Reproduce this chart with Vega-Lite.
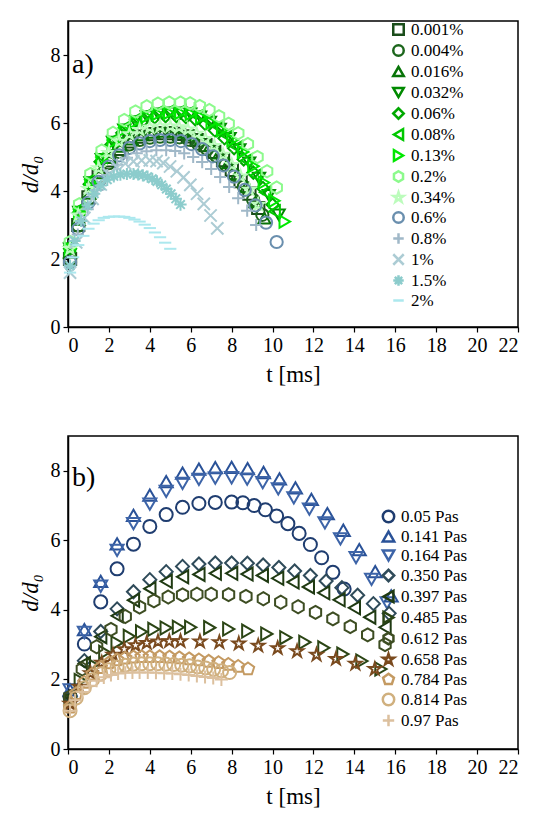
{
"$schema":"https://vega.github.io/schema/vega-lite/v6.json",
"config":{"font":"Times New Roman, Liberation Serif, serif","view":{"stroke":"black","strokeWidth":1.5},"axis":{"labelFont":"Times New Roman, Liberation Serif, serif","titleFont":"Times New Roman, Liberation Serif, serif","labelFontSize":20,"titleFontSize":23,"titleFontWeight":"normal","labelColor":"black","titleColor":"black","domainColor":"black","tickColor":"black","tickSize":5,"labelPadding":3,"grid":false,"domainWidth":1.5,"tickWidth":1.2},"legend":{"labelFont":"Times New Roman, Liberation Serif, serif","labelFontSize":17,"labelColor":"black"},"padding":{"left":18,"top":20,"right":16,"bottom":5}},
"resolve":{"scale":{"color":"independent","shape":"independent"},"legend":{"color":"independent"}},
"datasets":{
"a":[
{"s":"0.001%","t":0.1,"d":2.0},{"s":"0.001%","t":0.5,"d":3.0},{"s":"0.001%","t":1,"d":3.81},{"s":"0.001%","t":1.5,"d":4.43},{"s":"0.001%","t":2,"d":4.9},{"s":"0.001%","t":2.5,"d":5.24},{"s":"0.001%","t":3,"d":5.46},{"s":"0.001%","t":3.5,"d":5.6},{"s":"0.001%","t":4,"d":5.67},{"s":"0.001%","t":4.5,"d":5.7},{"s":"0.001%","t":5,"d":5.7},{"s":"0.001%","t":5.43,"d":5.68},{"s":"0.001%","t":5.86,"d":5.61},{"s":"0.001%","t":6.29,"d":5.5},{"s":"0.001%","t":6.72,"d":5.35},{"s":"0.001%","t":7.15,"d":5.15},{"s":"0.001%","t":7.58,"d":4.91},{"s":"0.001%","t":8.01,"d":4.62},{"s":"0.001%","t":8.44,"d":4.29},{"s":"0.001%","t":8.87,"d":3.92},{"s":"0.001%","t":9.3,"d":3.5},
{"s":"0.004%","t":0.1,"d":2.0},{"s":"0.004%","t":0.5,"d":2.98},{"s":"0.004%","t":1,"d":3.76},{"s":"0.004%","t":1.5,"d":4.37},{"s":"0.004%","t":2,"d":4.82},{"s":"0.004%","t":2.5,"d":5.15},{"s":"0.004%","t":3,"d":5.37},{"s":"0.004%","t":3.5,"d":5.5},{"s":"0.004%","t":4,"d":5.57},{"s":"0.004%","t":4.5,"d":5.6},{"s":"0.004%","t":5,"d":5.6},{"s":"0.004%","t":5.45,"d":5.58},{"s":"0.004%","t":5.9,"d":5.51},{"s":"0.004%","t":6.35,"d":5.39},{"s":"0.004%","t":6.8,"d":5.23},{"s":"0.004%","t":7.25,"d":5.03},{"s":"0.004%","t":7.7,"d":4.77},{"s":"0.004%","t":8.15,"d":4.47},{"s":"0.004%","t":8.6,"d":4.13},{"s":"0.004%","t":9.05,"d":3.74},{"s":"0.004%","t":9.5,"d":3.3},
{"s":"0.016%","t":0.1,"d":2.2},{"s":"0.016%","t":0.52,"d":3.16},{"s":"0.016%","t":1.04,"d":3.93},{"s":"0.016%","t":1.56,"d":4.53},{"s":"0.016%","t":2.08,"d":4.98},{"s":"0.016%","t":2.6,"d":5.31},{"s":"0.016%","t":3.12,"d":5.52},{"s":"0.016%","t":3.64,"d":5.65},{"s":"0.016%","t":4.16,"d":5.72},{"s":"0.016%","t":4.68,"d":5.75},{"s":"0.016%","t":5.2,"d":5.75},{"s":"0.016%","t":5.64,"d":5.72},{"s":"0.016%","t":6.08,"d":5.65},{"s":"0.016%","t":6.52,"d":5.52},{"s":"0.016%","t":6.96,"d":5.34},{"s":"0.016%","t":7.4,"d":5.11},{"s":"0.016%","t":7.84,"d":4.83},{"s":"0.016%","t":8.28,"d":4.5},{"s":"0.016%","t":8.72,"d":4.12},{"s":"0.016%","t":9.16,"d":3.68},{"s":"0.016%","t":9.6,"d":3.2},
{"s":"0.032%","t":0.1,"d":2.3},{"s":"0.032%","t":0.55,"d":3.38},{"s":"0.032%","t":1.1,"d":4.25},{"s":"0.032%","t":1.65,"d":4.93},{"s":"0.032%","t":2.2,"d":5.44},{"s":"0.032%","t":2.75,"d":5.8},{"s":"0.032%","t":3.3,"d":6.04},{"s":"0.032%","t":3.85,"d":6.19},{"s":"0.032%","t":4.4,"d":6.27},{"s":"0.032%","t":4.95,"d":6.3},{"s":"0.032%","t":5.5,"d":6.3},{"s":"0.032%","t":5.98,"d":6.27},{"s":"0.032%","t":6.46,"d":6.18},{"s":"0.032%","t":6.94,"d":6.03},{"s":"0.032%","t":7.42,"d":5.82},{"s":"0.032%","t":7.9,"d":5.55},{"s":"0.032%","t":8.38,"d":5.22},{"s":"0.032%","t":8.86,"d":4.83},{"s":"0.032%","t":9.34,"d":4.38},{"s":"0.032%","t":9.82,"d":3.87},{"s":"0.032%","t":10.3,"d":3.3},
{"s":"0.06%","t":0.1,"d":2.3},{"s":"0.06%","t":0.53,"d":3.36},{"s":"0.06%","t":1.06,"d":4.2},{"s":"0.06%","t":1.59,"d":4.86},{"s":"0.06%","t":2.12,"d":5.36},{"s":"0.06%","t":2.65,"d":5.71},{"s":"0.06%","t":3.18,"d":5.95},{"s":"0.06%","t":3.71,"d":6.09},{"s":"0.06%","t":4.24,"d":6.17},{"s":"0.06%","t":4.77,"d":6.2},{"s":"0.06%","t":5.3,"d":6.2},{"s":"0.06%","t":5.77,"d":6.17},{"s":"0.06%","t":6.24,"d":6.1},{"s":"0.06%","t":6.71,"d":5.97},{"s":"0.06%","t":7.18,"d":5.78},{"s":"0.06%","t":7.65,"d":5.55},{"s":"0.06%","t":8.12,"d":5.26},{"s":"0.06%","t":8.59,"d":4.93},{"s":"0.06%","t":9.06,"d":4.54},{"s":"0.06%","t":9.53,"d":4.09},{"s":"0.06%","t":10.0,"d":3.6},
{"s":"0.08%","t":0.1,"d":2.4},{"s":"0.08%","t":0.55,"d":3.47},{"s":"0.08%","t":1.1,"d":4.33},{"s":"0.08%","t":1.65,"d":5.0},{"s":"0.08%","t":2.2,"d":5.5},{"s":"0.08%","t":2.75,"d":5.86},{"s":"0.08%","t":3.3,"d":6.1},{"s":"0.08%","t":3.85,"d":6.24},{"s":"0.08%","t":4.4,"d":6.32},{"s":"0.08%","t":4.95,"d":6.35},{"s":"0.08%","t":5.5,"d":6.35},{"s":"0.08%","t":5.96,"d":6.32},{"s":"0.08%","t":6.42,"d":6.23},{"s":"0.08%","t":6.88,"d":6.08},{"s":"0.08%","t":7.34,"d":5.88},{"s":"0.08%","t":7.8,"d":5.61},{"s":"0.08%","t":8.26,"d":5.29},{"s":"0.08%","t":8.72,"d":4.9},{"s":"0.08%","t":9.18,"d":4.46},{"s":"0.08%","t":9.64,"d":3.96},{"s":"0.08%","t":10.1,"d":3.4},
{"s":"0.13%","t":0.1,"d":2.3},{"s":"0.13%","t":0.55,"d":3.38},{"s":"0.13%","t":1.1,"d":4.25},{"s":"0.13%","t":1.65,"d":4.93},{"s":"0.13%","t":2.2,"d":5.44},{"s":"0.13%","t":2.75,"d":5.8},{"s":"0.13%","t":3.3,"d":6.04},{"s":"0.13%","t":3.85,"d":6.19},{"s":"0.13%","t":4.4,"d":6.27},{"s":"0.13%","t":4.95,"d":6.3},{"s":"0.13%","t":5.5,"d":6.3},{"s":"0.13%","t":6.01,"d":6.27},{"s":"0.13%","t":6.52,"d":6.17},{"s":"0.13%","t":7.03,"d":6.01},{"s":"0.13%","t":7.54,"d":5.79},{"s":"0.13%","t":8.05,"d":5.5},{"s":"0.13%","t":8.56,"d":5.15},{"s":"0.13%","t":9.07,"d":4.73},{"s":"0.13%","t":9.58,"d":4.25},{"s":"0.13%","t":10.09,"d":3.71},{"s":"0.13%","t":10.6,"d":3.1},
{"s":"0.2%","t":0.1,"d":2.5},{"s":"0.2%","t":0.55,"d":3.61},{"s":"0.2%","t":1.1,"d":4.5},{"s":"0.2%","t":1.65,"d":5.19},{"s":"0.2%","t":2.2,"d":5.71},{"s":"0.2%","t":2.75,"d":6.09},{"s":"0.2%","t":3.3,"d":6.34},{"s":"0.2%","t":3.85,"d":6.49},{"s":"0.2%","t":4.4,"d":6.57},{"s":"0.2%","t":4.95,"d":6.6},{"s":"0.2%","t":5.5,"d":6.6},{"s":"0.2%","t":5.97,"d":6.58},{"s":"0.2%","t":6.44,"d":6.5},{"s":"0.2%","t":6.91,"d":6.38},{"s":"0.2%","t":7.38,"d":6.2},{"s":"0.2%","t":7.85,"d":5.98},{"s":"0.2%","t":8.32,"d":5.7},{"s":"0.2%","t":8.79,"d":5.38},{"s":"0.2%","t":9.26,"d":5.0},{"s":"0.2%","t":9.73,"d":4.58},{"s":"0.2%","t":10.2,"d":4.1},
{"s":"0.34%","t":0.1,"d":2.3},{"s":"0.34%","t":0.5,"d":3.28},{"s":"0.34%","t":1,"d":4.06},{"s":"0.34%","t":1.5,"d":4.67},{"s":"0.34%","t":2,"d":5.12},{"s":"0.34%","t":2.5,"d":5.45},{"s":"0.34%","t":3,"d":5.67},{"s":"0.34%","t":3.5,"d":5.8},{"s":"0.34%","t":4,"d":5.87},{"s":"0.34%","t":4.5,"d":5.9},{"s":"0.34%","t":5,"d":5.9},{"s":"0.34%","t":5.43,"d":5.88},{"s":"0.34%","t":5.86,"d":5.81},{"s":"0.34%","t":6.29,"d":5.69},{"s":"0.34%","t":6.72,"d":5.53},{"s":"0.34%","t":7.15,"d":5.33},{"s":"0.34%","t":7.58,"d":5.07},{"s":"0.34%","t":8.01,"d":4.77},{"s":"0.34%","t":8.44,"d":4.43},{"s":"0.34%","t":8.87,"d":4.04},{"s":"0.34%","t":9.3,"d":3.6},
{"s":"0.6%","t":0.1,"d":1.9},{"s":"0.6%","t":0.5,"d":2.88},{"s":"0.6%","t":1,"d":3.66},{"s":"0.6%","t":1.5,"d":4.27},{"s":"0.6%","t":2,"d":4.72},{"s":"0.6%","t":2.5,"d":5.05},{"s":"0.6%","t":3,"d":5.27},{"s":"0.6%","t":3.5,"d":5.4},{"s":"0.6%","t":4,"d":5.47},{"s":"0.6%","t":4.5,"d":5.5},{"s":"0.6%","t":5,"d":5.5},{"s":"0.6%","t":5.52,"d":5.47},{"s":"0.6%","t":6.04,"d":5.38},{"s":"0.6%","t":6.56,"d":5.23},{"s":"0.6%","t":7.08,"d":5.02},{"s":"0.6%","t":7.6,"d":4.75},{"s":"0.6%","t":8.12,"d":4.42},{"s":"0.6%","t":8.64,"d":4.03},{"s":"0.6%","t":9.16,"d":3.58},{"s":"0.6%","t":9.68,"d":3.07},{"s":"0.6%","t":10.2,"d":2.5},
{"s":"0.8%","t":0.1,"d":1.8},{"s":"0.8%","t":0.48,"d":2.72},{"s":"0.8%","t":0.96,"d":3.46},{"s":"0.8%","t":1.44,"d":4.03},{"s":"0.8%","t":1.92,"d":4.47},{"s":"0.8%","t":2.4,"d":4.77},{"s":"0.8%","t":2.88,"d":4.98},{"s":"0.8%","t":3.36,"d":5.11},{"s":"0.8%","t":3.84,"d":5.17},{"s":"0.8%","t":4.32,"d":5.2},{"s":"0.8%","t":4.8,"d":5.2},{"s":"0.8%","t":5.24,"d":5.18},{"s":"0.8%","t":5.68,"d":5.11},{"s":"0.8%","t":6.12,"d":5.0},{"s":"0.8%","t":6.56,"d":4.85},{"s":"0.8%","t":7.0,"d":4.65},{"s":"0.8%","t":7.44,"d":4.41},{"s":"0.8%","t":7.88,"d":4.12},{"s":"0.8%","t":8.32,"d":3.79},{"s":"0.8%","t":8.76,"d":3.42},{"s":"0.8%","t":9.2,"d":3.0},
{"s":"1%","t":0.1,"d":1.6},{"s":"1%","t":0.4,"d":2.49},{"s":"1%","t":0.8,"d":3.21},{"s":"1%","t":1.2,"d":3.77},{"s":"1%","t":1.6,"d":4.19},{"s":"1%","t":2.0,"d":4.49},{"s":"1%","t":2.4,"d":4.69},{"s":"1%","t":2.8,"d":4.81},{"s":"1%","t":3.2,"d":4.87},{"s":"1%","t":3.6,"d":4.9},{"s":"1%","t":4.0,"d":4.9},{"s":"1%","t":4.33,"d":4.88},{"s":"1%","t":4.66,"d":4.82},{"s":"1%","t":4.99,"d":4.72},{"s":"1%","t":5.32,"d":4.58},{"s":"1%","t":5.65,"d":4.4},{"s":"1%","t":5.98,"d":4.18},{"s":"1%","t":6.31,"d":3.92},{"s":"1%","t":6.64,"d":3.62},{"s":"1%","t":6.97,"d":3.28},{"s":"1%","t":7.3,"d":2.9},
{"s":"1.5%","t":0.1,"d":1.8},{"s":"1.5%","t":0.32,"d":2.53},{"s":"1.5%","t":0.64,"d":3.12},{"s":"1.5%","t":0.96,"d":3.57},{"s":"1.5%","t":1.28,"d":3.92},{"s":"1.5%","t":1.6,"d":4.16},{"s":"1.5%","t":1.92,"d":4.33},{"s":"1.5%","t":2.24,"d":4.43},{"s":"1.5%","t":2.56,"d":4.48},{"s":"1.5%","t":2.88,"d":4.5},{"s":"1.5%","t":3.2,"d":4.5},{"s":"1.5%","t":3.43,"d":4.49},{"s":"1.5%","t":3.66,"d":4.46},{"s":"1.5%","t":3.89,"d":4.42},{"s":"1.5%","t":4.12,"d":4.36},{"s":"1.5%","t":4.35,"d":4.28},{"s":"1.5%","t":4.58,"d":4.18},{"s":"1.5%","t":4.81,"d":4.06},{"s":"1.5%","t":5.04,"d":3.92},{"s":"1.5%","t":5.27,"d":3.77},{"s":"1.5%","t":5.5,"d":3.6},
{"s":"2%","t":0.1,"d":1.6},{"s":"2%","t":0.25,"d":2.05},{"s":"2%","t":0.5,"d":2.41},{"s":"2%","t":0.75,"d":2.68},{"s":"2%","t":1,"d":2.89},{"s":"2%","t":1.25,"d":3.04},{"s":"2%","t":1.5,"d":3.14},{"s":"2%","t":1.75,"d":3.21},{"s":"2%","t":2,"d":3.24},{"s":"2%","t":2.25,"d":3.25},{"s":"2%","t":2.5,"d":3.25},{"s":"2%","t":2.75,"d":3.24},{"s":"2%","t":3,"d":3.21},{"s":"2%","t":3.25,"d":3.16},{"s":"2%","t":3.5,"d":3.1},{"s":"2%","t":3.75,"d":3.01},{"s":"2%","t":4,"d":2.91},{"s":"2%","t":4.25,"d":2.78},{"s":"2%","t":4.5,"d":2.64},{"s":"2%","t":4.75,"d":2.48},{"s":"2%","t":5,"d":2.3}
],
"b":[
{"s":"0.05 Pas","t":0.1,"d":1.5},{"s":"0.05 Pas","t":0.8,"d":3.02},{"s":"0.05 Pas","t":1.6,"d":4.23},{"s":"0.05 Pas","t":2.4,"d":5.18},{"s":"0.05 Pas","t":3.2,"d":5.89},{"s":"0.05 Pas","t":4,"d":6.4},{"s":"0.05 Pas","t":4.8,"d":6.74},{"s":"0.05 Pas","t":5.6,"d":6.95},{"s":"0.05 Pas","t":6.4,"d":7.06},{"s":"0.05 Pas","t":7.2,"d":7.09},{"s":"0.05 Pas","t":8,"d":7.1},{"s":"0.05 Pas","t":8.55,"d":7.08},{"s":"0.05 Pas","t":9.1,"d":7.0},{"s":"0.05 Pas","t":9.65,"d":6.88},{"s":"0.05 Pas","t":10.2,"d":6.7},{"s":"0.05 Pas","t":10.75,"d":6.48},{"s":"0.05 Pas","t":11.3,"d":6.2},{"s":"0.05 Pas","t":11.85,"d":5.88},{"s":"0.05 Pas","t":12.4,"d":5.5},{"s":"0.05 Pas","t":12.95,"d":5.08},{"s":"0.05 Pas","t":13.5,"d":4.6},
{"s":"0.141 Pas","t":0.1,"d":1.7},{"s":"0.141 Pas","t":0.8,"d":3.43},{"s":"0.141 Pas","t":1.6,"d":4.82},{"s":"0.141 Pas","t":2.4,"d":5.9},{"s":"0.141 Pas","t":3.2,"d":6.72},{"s":"0.141 Pas","t":4,"d":7.3},{"s":"0.141 Pas","t":4.8,"d":7.69},{"s":"0.141 Pas","t":5.6,"d":7.93},{"s":"0.141 Pas","t":6.4,"d":8.05},{"s":"0.141 Pas","t":7.2,"d":8.09},{"s":"0.141 Pas","t":8,"d":8.1},{"s":"0.141 Pas","t":8.78,"d":8.06},{"s":"0.141 Pas","t":9.56,"d":7.95},{"s":"0.141 Pas","t":10.34,"d":7.77},{"s":"0.141 Pas","t":11.12,"d":7.51},{"s":"0.141 Pas","t":11.9,"d":7.18},{"s":"0.141 Pas","t":12.68,"d":6.77},{"s":"0.141 Pas","t":13.46,"d":6.29},{"s":"0.141 Pas","t":14.24,"d":5.73},{"s":"0.141 Pas","t":15.02,"d":5.1},{"s":"0.141 Pas","t":15.8,"d":4.4},
{"s":"0.164 Pas","t":0.1,"d":1.7},{"s":"0.164 Pas","t":0.8,"d":3.35},{"s":"0.164 Pas","t":1.6,"d":4.68},{"s":"0.164 Pas","t":2.4,"d":5.71},{"s":"0.164 Pas","t":3.2,"d":6.48},{"s":"0.164 Pas","t":4,"d":7.04},{"s":"0.164 Pas","t":4.8,"d":7.41},{"s":"0.164 Pas","t":5.6,"d":7.64},{"s":"0.164 Pas","t":6.4,"d":7.75},{"s":"0.164 Pas","t":7.2,"d":7.79},{"s":"0.164 Pas","t":8,"d":7.8},{"s":"0.164 Pas","t":8.76,"d":7.76},{"s":"0.164 Pas","t":9.52,"d":7.66},{"s":"0.164 Pas","t":10.28,"d":7.48},{"s":"0.164 Pas","t":11.04,"d":7.22},{"s":"0.164 Pas","t":11.8,"d":6.9},{"s":"0.164 Pas","t":12.56,"d":6.5},{"s":"0.164 Pas","t":13.32,"d":6.04},{"s":"0.164 Pas","t":14.08,"d":5.5},{"s":"0.164 Pas","t":14.84,"d":4.88},{"s":"0.164 Pas","t":15.6,"d":4.2},
{"s":"0.350 Pas","t":0.1,"d":1.5},{"s":"0.350 Pas","t":0.8,"d":2.54},{"s":"0.350 Pas","t":1.6,"d":3.38},{"s":"0.350 Pas","t":2.4,"d":4.03},{"s":"0.350 Pas","t":3.2,"d":4.52},{"s":"0.350 Pas","t":4,"d":4.87},{"s":"0.350 Pas","t":4.8,"d":5.1},{"s":"0.350 Pas","t":5.6,"d":5.25},{"s":"0.350 Pas","t":6.4,"d":5.32},{"s":"0.350 Pas","t":7.2,"d":5.35},{"s":"0.350 Pas","t":8,"d":5.35},{"s":"0.350 Pas","t":8.77,"d":5.34},{"s":"0.350 Pas","t":9.54,"d":5.29},{"s":"0.350 Pas","t":10.31,"d":5.22},{"s":"0.350 Pas","t":11.08,"d":5.12},{"s":"0.350 Pas","t":11.85,"d":4.99},{"s":"0.350 Pas","t":12.62,"d":4.83},{"s":"0.350 Pas","t":13.39,"d":4.64},{"s":"0.350 Pas","t":14.16,"d":4.42},{"s":"0.350 Pas","t":14.93,"d":4.18},{"s":"0.350 Pas","t":15.7,"d":3.9},
{"s":"0.397 Pas","t":0.1,"d":1.5},{"s":"0.397 Pas","t":0.8,"d":2.46},{"s":"0.397 Pas","t":1.6,"d":3.23},{"s":"0.397 Pas","t":2.4,"d":3.83},{"s":"0.397 Pas","t":3.2,"d":4.28},{"s":"0.397 Pas","t":4,"d":4.61},{"s":"0.397 Pas","t":4.8,"d":4.82},{"s":"0.397 Pas","t":5.6,"d":4.95},{"s":"0.397 Pas","t":6.4,"d":5.02},{"s":"0.397 Pas","t":7.2,"d":5.05},{"s":"0.397 Pas","t":8,"d":5.05},{"s":"0.397 Pas","t":8.75,"d":5.03},{"s":"0.397 Pas","t":9.5,"d":4.99},{"s":"0.397 Pas","t":10.25,"d":4.91},{"s":"0.397 Pas","t":11,"d":4.8},{"s":"0.397 Pas","t":11.75,"d":4.66},{"s":"0.397 Pas","t":12.5,"d":4.49},{"s":"0.397 Pas","t":13.25,"d":4.29},{"s":"0.397 Pas","t":14,"d":4.06},{"s":"0.397 Pas","t":14.75,"d":3.79},{"s":"0.397 Pas","t":15.5,"d":3.5},
{"s":"0.485 Pas","t":0.1,"d":1.4},{"s":"0.485 Pas","t":0.6,"d":1.97},{"s":"0.485 Pas","t":1.2,"d":2.42},{"s":"0.485 Pas","t":1.8,"d":2.78},{"s":"0.485 Pas","t":2.4,"d":3.05},{"s":"0.485 Pas","t":3,"d":3.24},{"s":"0.485 Pas","t":3.6,"d":3.37},{"s":"0.485 Pas","t":4.2,"d":3.44},{"s":"0.485 Pas","t":4.8,"d":3.48},{"s":"0.485 Pas","t":5.4,"d":3.5},{"s":"0.485 Pas","t":6,"d":3.5},{"s":"0.485 Pas","t":6.93,"d":3.49},{"s":"0.485 Pas","t":7.86,"d":3.45},{"s":"0.485 Pas","t":8.79,"d":3.39},{"s":"0.485 Pas","t":9.72,"d":3.31},{"s":"0.485 Pas","t":10.65,"d":3.2},{"s":"0.485 Pas","t":11.58,"d":3.07},{"s":"0.485 Pas","t":12.51,"d":2.91},{"s":"0.485 Pas","t":13.44,"d":2.73},{"s":"0.485 Pas","t":14.37,"d":2.53},{"s":"0.485 Pas","t":15.3,"d":2.3},
{"s":"0.612 Pas","t":0.1,"d":1.5},{"s":"0.612 Pas","t":0.7,"d":2.3},{"s":"0.612 Pas","t":1.4,"d":2.94},{"s":"0.612 Pas","t":2.1,"d":3.44},{"s":"0.612 Pas","t":2.8,"d":3.81},{"s":"0.612 Pas","t":3.5,"d":4.08},{"s":"0.612 Pas","t":4.2,"d":4.26},{"s":"0.612 Pas","t":4.9,"d":4.37},{"s":"0.612 Pas","t":5.6,"d":4.43},{"s":"0.612 Pas","t":6.3,"d":4.45},{"s":"0.612 Pas","t":7,"d":4.45},{"s":"0.612 Pas","t":7.85,"d":4.44},{"s":"0.612 Pas","t":8.7,"d":4.39},{"s":"0.612 Pas","t":9.55,"d":4.32},{"s":"0.612 Pas","t":10.4,"d":4.22},{"s":"0.612 Pas","t":11.25,"d":4.09},{"s":"0.612 Pas","t":12.1,"d":3.93},{"s":"0.612 Pas","t":12.95,"d":3.74},{"s":"0.612 Pas","t":13.8,"d":3.52},{"s":"0.612 Pas","t":14.65,"d":3.28},{"s":"0.612 Pas","t":15.5,"d":3.0},
{"s":"0.658 Pas","t":0.1,"d":1.3},{"s":"0.658 Pas","t":0.55,"d":1.79},{"s":"0.658 Pas","t":1.1,"d":2.18},{"s":"0.658 Pas","t":1.65,"d":2.48},{"s":"0.658 Pas","t":2.2,"d":2.71},{"s":"0.658 Pas","t":2.75,"d":2.87},{"s":"0.658 Pas","t":3.3,"d":2.98},{"s":"0.658 Pas","t":3.85,"d":3.05},{"s":"0.658 Pas","t":4.4,"d":3.09},{"s":"0.658 Pas","t":4.95,"d":3.1},{"s":"0.658 Pas","t":5.5,"d":3.1},{"s":"0.658 Pas","t":6.45,"d":3.09},{"s":"0.658 Pas","t":7.4,"d":3.07},{"s":"0.658 Pas","t":8.35,"d":3.03},{"s":"0.658 Pas","t":9.3,"d":2.97},{"s":"0.658 Pas","t":10.25,"d":2.9},{"s":"0.658 Pas","t":11.2,"d":2.81},{"s":"0.658 Pas","t":12.15,"d":2.71},{"s":"0.658 Pas","t":13.1,"d":2.59},{"s":"0.658 Pas","t":14.05,"d":2.45},{"s":"0.658 Pas","t":15,"d":2.3},
{"s":"0.784 Pas","t":0.1,"d":1.2},{"s":"0.784 Pas","t":0.4,"d":1.59},{"s":"0.784 Pas","t":0.8,"d":1.91},{"s":"0.784 Pas","t":1.2,"d":2.15},{"s":"0.784 Pas","t":1.6,"d":2.34},{"s":"0.784 Pas","t":2,"d":2.47},{"s":"0.784 Pas","t":2.4,"d":2.56},{"s":"0.784 Pas","t":2.8,"d":2.61},{"s":"0.784 Pas","t":3.2,"d":2.64},{"s":"0.784 Pas","t":3.6,"d":2.65},{"s":"0.784 Pas","t":4,"d":2.65},{"s":"0.784 Pas","t":4.48,"d":2.65},{"s":"0.784 Pas","t":4.96,"d":2.64},{"s":"0.784 Pas","t":5.44,"d":2.62},{"s":"0.784 Pas","t":5.92,"d":2.59},{"s":"0.784 Pas","t":6.4,"d":2.56},{"s":"0.784 Pas","t":6.88,"d":2.52},{"s":"0.784 Pas","t":7.36,"d":2.48},{"s":"0.784 Pas","t":7.84,"d":2.43},{"s":"0.784 Pas","t":8.32,"d":2.37},{"s":"0.784 Pas","t":8.8,"d":2.3},
{"s":"0.814 Pas","t":0.1,"d":1.1},{"s":"0.814 Pas","t":0.4,"d":1.47},{"s":"0.814 Pas","t":0.8,"d":1.76},{"s":"0.814 Pas","t":1.2,"d":1.99},{"s":"0.814 Pas","t":1.6,"d":2.16},{"s":"0.814 Pas","t":2,"d":2.28},{"s":"0.814 Pas","t":2.4,"d":2.36},{"s":"0.814 Pas","t":2.8,"d":2.41},{"s":"0.814 Pas","t":3.2,"d":2.44},{"s":"0.814 Pas","t":3.6,"d":2.45},{"s":"0.814 Pas","t":4,"d":2.45},{"s":"0.814 Pas","t":4.39,"d":2.45},{"s":"0.814 Pas","t":4.78,"d":2.44},{"s":"0.814 Pas","t":5.17,"d":2.43},{"s":"0.814 Pas","t":5.56,"d":2.41},{"s":"0.814 Pas","t":5.95,"d":2.39},{"s":"0.814 Pas","t":6.34,"d":2.36},{"s":"0.814 Pas","t":6.73,"d":2.33},{"s":"0.814 Pas","t":7.12,"d":2.29},{"s":"0.814 Pas","t":7.51,"d":2.25},{"s":"0.814 Pas","t":7.9,"d":2.2},
{"s":"0.97 Pas","t":0.1,"d":1.1},{"s":"0.97 Pas","t":0.35,"d":1.4},{"s":"0.97 Pas","t":0.7,"d":1.64},{"s":"0.97 Pas","t":1.05,"d":1.82},{"s":"0.97 Pas","t":1.4,"d":1.96},{"s":"0.97 Pas","t":1.75,"d":2.06},{"s":"0.97 Pas","t":2.1,"d":2.13},{"s":"0.97 Pas","t":2.45,"d":2.17},{"s":"0.97 Pas","t":2.8,"d":2.19},{"s":"0.97 Pas","t":3.15,"d":2.2},{"s":"0.97 Pas","t":3.5,"d":2.2},{"s":"0.97 Pas","t":3.9,"d":2.2},{"s":"0.97 Pas","t":4.3,"d":2.19},{"s":"0.97 Pas","t":4.7,"d":2.18},{"s":"0.97 Pas","t":5.1,"d":2.17},{"s":"0.97 Pas","t":5.5,"d":2.15},{"s":"0.97 Pas","t":5.9,"d":2.13},{"s":"0.97 Pas","t":6.3,"d":2.1},{"s":"0.97 Pas","t":6.7,"d":2.07},{"s":"0.97 Pas","t":7.1,"d":2.04},{"s":"0.97 Pas","t":7.5,"d":2.0}
],
"la":[{"lab":"a)"}],
"lb":[{"lab":"b)"}]
},
"vconcat":[
{"width":450,"height":306,
"layer":[
{"data":{"name":"a"},"mark":{"type":"point","filled":false,"strokeWidth":2,"size":150,"opacity":1},
"encoding":{
"x":{"field":"t","type":"quantitative","scale":{"domain":[0,22]},"axis":{"values":[0,2,4,6,8,10,12,14,16,18,20,22],"title":"t [ms]","titlePadding":8}},
"y":{"field":"d","type":"quantitative","scale":{"domain":[0,8.3]},"axis":{"values":[0,1,2,3,4,5,6,7,8],"title":"d/d₀","titleFontStyle":"italic","titlePadding":8}},
"color":{"field":"s","type":"nominal","scale":{"domain":["0.001%","0.004%","0.016%","0.032%","0.06%","0.08%","0.13%","0.2%","0.34%","0.6%","0.8%","1%","1.5%","2%"],"range":["#1a4d1a","#1c661c","#087408","#008a00","#00a800","#00c800","#00e800","#8cfa8c","#bcfcbc","#6a8fae","#a0b8c8","#acccd4","#8ccccc","#ace8ee"]},"legend":{"orient":"none","legendX":322,"legendY":0,"title":null,"rowPadding":0,"symbolSize":110,"symbolStrokeWidth":2.5,"symbolOpacity":1,"labelFontSize":17}},
"shape":{"field":"s","type":"nominal","scale":{"domain":["0.001%","0.004%","0.016%","0.032%","0.06%","0.08%","0.13%","0.2%","0.34%","0.6%","0.8%","1%","1.5%","2%"],"range":["square","circle","triangle-up","triangle-down","diamond","triangle-left","triangle-right","M0,-1L0.866,-0.5L0.866,0.5L0,1L-0.866,0.5L-0.866,-0.5Z","M0,-1L0.224,-0.309L0.951,-0.309L0.363,0.118L0.588,0.809L0,0.382L-0.588,0.809L-0.363,0.118L-0.951,-0.309L-0.224,-0.309Z","circle","M-1,0H1M0,-1V1","M-1,-1L1,1M-1,1L1,-1","M-1,0H1M0,-1V1M-0.7,-0.7L0.7,0.7M-0.7,0.7L0.7,-0.7","M-1,0H1"]},"legend":null}
}},
{"data":{"name":"la"},"mark":{"type":"text","fontSize":28,"align":"left","baseline":"middle","font":"Times New Roman, Liberation Serif, serif"},"encoding":{"text":{"field":"lab"},"x":{"datum":0.2},"y":{"datum":7.7}}}
]},
{"width":450,"height":313,
"layer":[
{"data":{"name":"b"},"mark":{"type":"point","filled":false,"strokeWidth":2,"size":170,"opacity":1},
"encoding":{
"x":{"field":"t","type":"quantitative","scale":{"domain":[0,22]},"axis":{"values":[0,2,4,6,8,10,12,14,16,18,20,22],"title":"t [ms]","titlePadding":8}},
"y":{"field":"d","type":"quantitative","scale":{"domain":[0,8.4]},"axis":{"values":[0,1,2,3,4,5,6,7,8],"title":"d/d₀","titleFontStyle":"italic","titlePadding":8}},
"color":{"field":"s","type":"nominal","scale":{"domain":["0.05 Pas","0.141 Pas","0.164 Pas","0.350 Pas","0.397 Pas","0.485 Pas","0.612 Pas","0.658 Pas","0.784 Pas","0.814 Pas","0.97 Pas"],"range":["#1f3d70","#2a5298","#3d64a8","#2f4b5a","#1f3a12","#2b4515","#3d4d22","#7a4a1e","#c49a62","#d0b07e","#dcc09e"]},"legend":{"orient":"none","legendX":312,"legendY":72,"title":null,"rowPadding":-2,"symbolSize":130,"symbolStrokeWidth":2.5,"symbolOpacity":1,"labelFontSize":17}},
"shape":{"field":"s","type":"nominal","scale":{"domain":["0.05 Pas","0.141 Pas","0.164 Pas","0.350 Pas","0.397 Pas","0.485 Pas","0.612 Pas","0.658 Pas","0.784 Pas","0.814 Pas","0.97 Pas"],"range":["circle","triangle-up","triangle-down","diamond","triangle-left","triangle-right","M0,-1L0.866,-0.5L0.866,0.5L0,1L-0.866,0.5L-0.866,-0.5Z","M0,-1L0.224,-0.309L0.951,-0.309L0.363,0.118L0.588,0.809L0,0.382L-0.588,0.809L-0.363,0.118L-0.951,-0.309L-0.224,-0.309Z","M0,-1L0.951,-0.309L0.588,0.809L-0.588,0.809L-0.951,-0.309Z","circle","M-1,0H1M0,-1V1"]},"legend":null}
}},
{"data":{"name":"lb"},"mark":{"type":"text","fontSize":28,"align":"left","baseline":"middle","font":"Times New Roman, Liberation Serif, serif"},"encoding":{"text":{"field":"lab"},"x":{"datum":0.2},"y":{"datum":7.8}}}
]}
],
"spacing":48
}
